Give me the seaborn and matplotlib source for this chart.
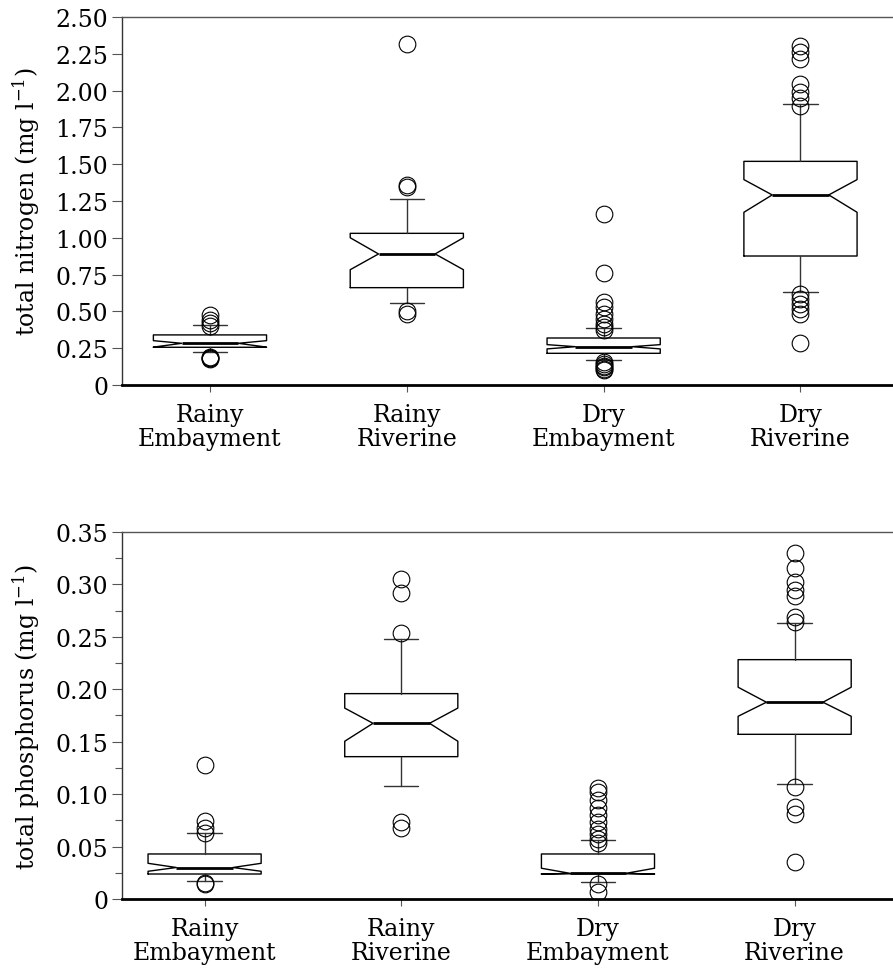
import matplotlib
matplotlib.use("Agg")
import matplotlib.pyplot as plt
import seaborn as sns
from matplotlib.ticker import FixedLocator, MultipleLocator, FuncFormatter

# ---------------- data ----------------
categories = ["Rainy\nEmbayment", "Rainy\nRiverine", "Dry\nEmbayment", "Dry\nRiverine"]

# total nitrogen (mg l-1)
tn_whislo = [0.222, 0.557, 0.172, 0.634]
tn_q1 = [0.256, 0.661, 0.215, 0.876]
tn_med = [0.283, 0.890, 0.260, 1.291]
tn_q3 = [0.340, 1.030, 0.319, 1.519]
tn_whishi = [0.408, 1.264, 0.387, 1.911]
tn_cilo = [0.257, 0.783, 0.245, 1.173]
tn_cihi = [0.301, 1.000, 0.274, 1.395]
tn_fliers = [
    [0.473, 0.440, 0.420, 0.400, 0.190, 0.185, 0.180, 0.175],
    [2.317, 1.360, 1.345, 0.505, 0.482],
    [1.162, 0.761, 0.562, 0.528, 0.482, 0.448, 0.414, 0.392, 0.376,
     0.155, 0.140, 0.130, 0.120, 0.110, 0.100],
    [2.305, 2.260, 2.215, 2.045, 1.988, 1.948, 1.898,
     0.618, 0.584, 0.550, 0.516, 0.482, 0.283],
]

# total phosphorus (mg l-1)
tp_whislo = [0.0169, 0.108, 0.0159, 0.110]
tp_q1 = [0.0238, 0.1357, 0.0240, 0.157]
tp_med = [0.0300, 0.1675, 0.0245, 0.1876]
tp_q3 = [0.0429, 0.1958, 0.0429, 0.2282]
tp_whishi = [0.0626, 0.2483, 0.0565, 0.2635]
tp_cilo = [0.0264, 0.1504, 0.0236, 0.1742]
tp_cihi = [0.0340, 0.1820, 0.0293, 0.2019]
tp_fliers = [
    [0.128, 0.074, 0.068, 0.063, 0.0155, 0.0138],
    [0.305, 0.292, 0.2534, 0.0731, 0.0674],
    [0.106, 0.102, 0.094, 0.087, 0.080, 0.073, 0.067, 0.062, 0.057, 0.053,
     0.0143, 0.0067],
    [0.3297, 0.3157, 0.3026, 0.295, 0.2893, 0.269, 0.264,
     0.107, 0.0874, 0.081, 0.035],
]

tn_yticks = [0, 0.25, 0.5, 0.75, 1.0, 1.25, 1.5, 1.75, 2.0, 2.25, 2.5]
tp_yticks = [0, 0.05, 0.10, 0.15, 0.20, 0.25, 0.30, 0.35]

# ---------------- style ----------------
sns.set_theme(style="ticks")
plt.rcParams["font.family"] = ["DejaVu Serif"]
plt.rcParams["mathtext.fontset"] = "dejavuserif"
plt.rcParams["text.color"] = "black"
plt.rcParams["axes.labelcolor"] = "black"
plt.rcParams["xtick.labelcolor"] = "black"
plt.rcParams["ytick.labelcolor"] = "black"

fig = plt.figure(figsize=(8.93, 9.70), dpi=100)
ax1 = fig.add_axes([0.1366, 0.6021, 0.8634, 0.3794])
ax2 = fig.add_axes([0.1366, 0.0722, 0.8634, 0.3784])


def build_stats(whislo, q1, med, q3, whishi, cilo, cihi, fliers):
    stats = []
    for i in range(len(categories)):
        stats.append(dict(whislo=whislo[i], q1=q1[i], med=med[i], q3=q3[i],
                          whishi=whishi[i], cilo=cilo[i], cihi=cihi[i],
                          fliers=fliers[i], label=categories[i]))
    return stats


def draw(ax, stats, yticks, ylabel, xlim, minor=None):
    ax.bxp(stats, positions=range(len(categories)), widths=0.575,
           capwidths=0.175, shownotches=True, showfliers=True,
           boxprops=dict(color="black", linewidth=1.0),
           whiskerprops=dict(color="#333333", linewidth=1.0),
           capprops=dict(color="#333333", linewidth=1.0),
           medianprops=dict(color="black", linewidth=2.0),
           flierprops=dict(marker="o", markersize=12, markerfacecolor="none",
                           markeredgecolor="black", markeredgewidth=0.8,
                           linestyle="none"))
    ax.set_xlim(*xlim)
    ax.set_ylim(yticks[0], yticks[-1])
    ax.yaxis.set_major_locator(FixedLocator(yticks))
    ax.yaxis.set_major_formatter(FuncFormatter(lambda v, p: "0" if v == 0 else f"{v:.2f}"))
    if minor:
        ax.yaxis.set_minor_locator(MultipleLocator(minor))
        ax.tick_params(axis="y", which="minor", length=5, width=0.8, color="#555555")
    ax.set_xticks(range(len(categories)))
    ax.set_xticklabels(categories, fontsize=17, linespacing=1.05, color="black")
    ax.tick_params(axis="y", which="major", labelsize=17, length=7, width=0.8,
                   color="#555555", pad=3, labelcolor="black")
    ax.tick_params(axis="x", length=5, width=0.8, color="#555555", pad=8,
                   labelcolor="black")
    ax.set_ylabel(ylabel, fontsize=17, color="black")
    ax.yaxis.set_label_coords(-0.104, 0.5)
    ax.set_facecolor("white")
    ax.spines["right"].set_visible(False)
    ax.spines["top"].set_color("#555555")
    ax.spines["top"].set_linewidth(1.0)
    ax.spines["left"].set_color("#333333")
    ax.spines["left"].set_linewidth(1.0)
    ax.spines["bottom"].set_color("black")
    ax.spines["bottom"].set_linewidth(2.0)


draw(ax1, build_stats(tn_whislo, tn_q1, tn_med, tn_q3, tn_whishi, tn_cilo, tn_cihi, tn_fliers),
     tn_yticks, "total nitrogen (mg l$^{-1}$)", (-0.447, 3.47))
draw(ax2, build_stats(tp_whislo, tp_q1, tp_med, tp_q3, tp_whishi, tp_cilo, tp_cihi, tp_fliers),
     tp_yticks, "total phosphorus (mg l$^{-1}$)", (-0.42, 3.50), minor=0.025)

fig.savefig("out.png", dpi=100, facecolor="white")
